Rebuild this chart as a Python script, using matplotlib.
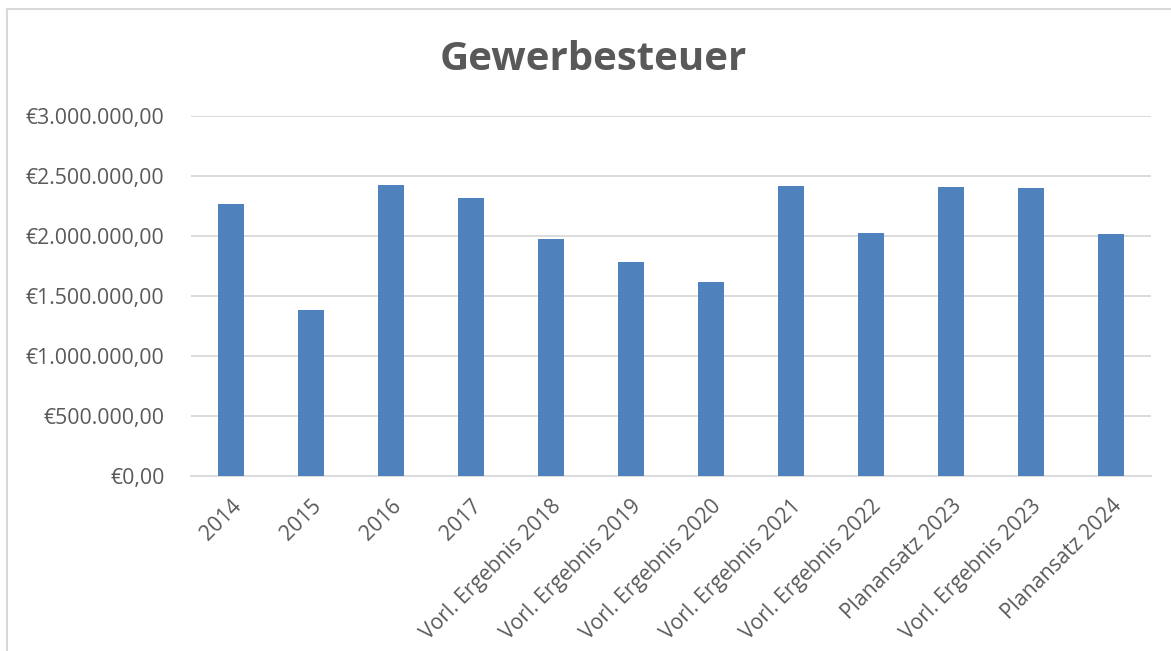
import matplotlib
matplotlib.use("Agg")
import matplotlib.pyplot as plt
from matplotlib.lines import Line2D
from matplotlib.ticker import FuncFormatter, MultipleLocator

# Kategorien und Werte
categories = [
    "2014", "2015", "2016", "2017",
    "Vorl. Ergebnis 2018", "Vorl. Ergebnis 2019", "Vorl. Ergebnis 2020",
    "Vorl. Ergebnis 2021", "Vorl. Ergebnis 2022", "Planansatz 2023",
    "Vorl. Ergebnis 2023", "Planansatz 2024",
]
values = [
    2267000, 1382000, 2423000, 2318000,
    1972000, 1783000, 1616000,
    2418000, 2022000, 2409000,
    2401000, 2014000,
]

text_color = "#595959"
bar_color = "#4F81BD"
grid_color = "#D9D9D9"
font = "Open Sans"

W, H = 1171, 651
fig = plt.figure(figsize=(W / 100, H / 100), dpi=100)
ax = fig.add_axes([191 / W, 1 - 476 / H, 960 / W, 360 / H])

x = list(range(len(categories)))
ax.bar(x, values, width=0.32, color=bar_color, zorder=3)

ax.set_xlim(-0.5, len(categories) - 0.5)
ax.set_ylim(0, 3000000)
ax.yaxis.set_major_locator(MultipleLocator(500000))


def euro(v, pos):
    s = f"{v:,.2f}".replace(",", "X").replace(".", ",").replace("X", ".")
    return "€" + s


ax.yaxis.set_major_formatter(FuncFormatter(euro))
ax.grid(axis="y", color=grid_color, linewidth=1.3, zorder=0)
for side in ["top", "right", "left"]:
    ax.spines[side].set_visible(False)
ax.spines["bottom"].set_color(grid_color)
ax.spines["bottom"].set_linewidth(1.3)
ax.tick_params(axis="both", length=0, colors=text_color)
ax.tick_params(axis="y", pad=19)
ax.tick_params(axis="x", pad=14)

ax.set_xticks(x)
ax.set_xticklabels(categories, rotation=45, ha="right", rotation_mode="anchor",
                   fontsize=15.2, family=font, color=text_color)
for lbl in ax.get_yticklabels():
    lbl.set_fontsize(15.3)
    lbl.set_family(font)
    lbl.set_color(text_color)

fig.text(593 / W, 1 - 60 / H, "Gewerbesteuer", ha="center", va="center",
         fontsize=29, fontweight="bold", family=font, color=text_color)

# Rahmen des Diagrammbereichs
fig.add_artist(Line2D([7 / W, 1], [1 - 9 / H, 1 - 9 / H], color="#D9D9D9", linewidth=1.5))
fig.add_artist(Line2D([7 / W, 7 / W], [0, 1 - 9 / H], color="#D9D9D9", linewidth=1.5))

fig.savefig("out.png", dpi=100)
